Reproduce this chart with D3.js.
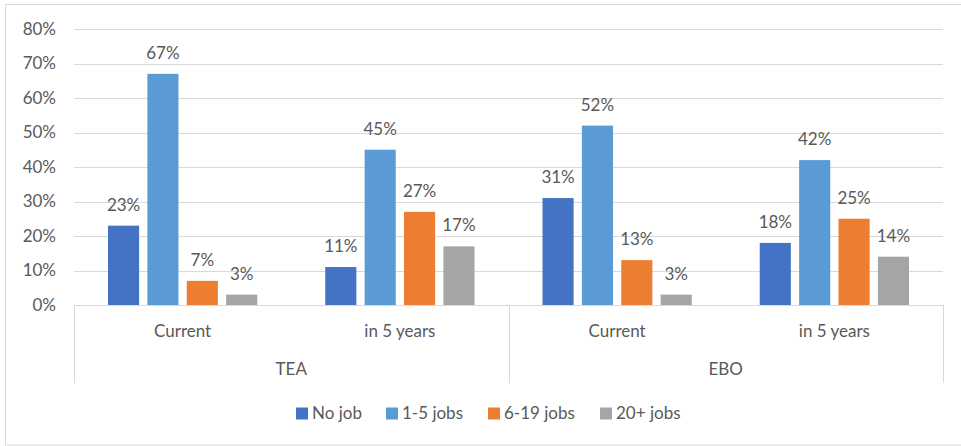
<!DOCTYPE html>
<html><head><meta charset="utf-8">
<script src="https://cdn.jsdelivr.net/npm/d3@7"></script>
<style>body{margin:0;background:#fff;} text{font-family:Lato,"Open Sans",sans-serif;}</style>
</head><body>
<svg id="c" width="961" height="446"></svg>
<script>
const groups = ["TEA", "EBO"];
const periods = ["Current", "in 5 years"];
const seriesNames = ["No job", "1-5 jobs", "6-19 jobs", "20+ jobs"];
const colors = ["#4472C4", "#5B9BD5", "#ED7D31", "#A5A5A5"];
// values per category (TEA Current, TEA in 5 years, EBO Current, EBO in 5 years)
const noJob = [23, 11, 31, 18];
const jobs1to5 = [67, 45, 52, 42];
const jobs6to19 = [7, 27, 13, 25];
const jobs20plus = [3, 17, 3, 14];
const yTicks = [0, 10, 20, 30, 40, 50, 60, 70, 80];

(function () {
const series = [noJob, jobs1to5, jobs6to19, jobs20plus];
const cats = [];
groups.forEach(g => periods.forEach(p => cats.push(g + "|" + p)));

const svg = d3.select("#c");
const pL = 74, pR = 943, pT = 29, pB = 305;
const textColor = "#595959", fs = 17;

svg.append("rect").attr("x", 5.5).attr("y", 4.5).attr("width", 970).attr("height", 440.5)
  .attr("fill", "#fff").attr("stroke", "#d9d9d9").attr("stroke-width", 1);

const y = d3.scaleLinear().domain([0, 80]).range([pB, pT]);
const x0 = d3.scaleBand().domain(cats).range([pL, pR]).paddingInner(0).paddingOuter(0);
const x1 = d3.scaleBand().domain(d3.range(4)).range([34, x0.bandwidth() - 34]).paddingInner(0.21).paddingOuter(0);

// gridlines
svg.append("g").selectAll("line").data(yTicks.filter(t => t > 0)).join("line")
  .attr("x1", pL).attr("x2", pR).attr("y1", d => Math.round(y(d)) + 0.5).attr("y2", d => Math.round(y(d)) + 0.5)
  .attr("stroke", "#d9d9d9").attr("stroke-width", 1);

// y axis labels
const yAxis = d3.axisLeft(y).tickValues(yTicks).tickFormat(d => d + "%").tickSize(0).tickPadding(0);
const ya = svg.append("g").attr("transform", `translate(56,0)`).call(yAxis);
ya.select(".domain").remove();
ya.selectAll("text").attr("fill", textColor).style("font-size", fs + "px").style("font-family", "Lato");

// bars
cats.forEach((c, ci) => {
  series.forEach((s, si) => {
    const bx = x0(c) + x1(si);
    svg.append("rect").attr("x", bx).attr("y", y(s[ci])).attr("width", x1.bandwidth())
      .attr("height", y(0) - y(s[ci])).attr("fill", colors[si]);
    svg.append("text").attr("x", bx + x1.bandwidth() / 2).attr("y", y(s[ci]) - 15)
      .attr("text-anchor", "middle").attr("fill", textColor).style("font-size", fs + "px").text(s[ci] + "%");
  });
});

// axis baseline and category box
const axG = svg.append("g").attr("stroke", "#d9d9d9").attr("stroke-width", 1);
axG.append("line").attr("x1", pL).attr("x2", pR).attr("y1", pB + 0.5).attr("y2", pB + 0.5);
const sep = [pL, x0(cats[2]), pR];
sep.forEach(sx => axG.append("line").attr("x1", Math.round(sx) + 0.5).attr("x2", Math.round(sx) + 0.5)
  .attr("y1", pB).attr("y2", 383));

cats.forEach(c => {
  svg.append("text").attr("x", x0(c) + x0.bandwidth() / 2).attr("y", 337)
    .attr("text-anchor", "middle").attr("fill", textColor).style("font-size", fs + "px").text(c.split("|")[1]);
});
groups.forEach((g) => {
  const a = x0(g + "|" + periods[0]), b = x0(g + "|" + periods[1]) + x0.bandwidth();
  svg.append("text").attr("x", (a + b) / 2).attr("y", 375)
    .attr("text-anchor", "middle").attr("fill", textColor).style("font-size", fs + "px").text(g);
});

// legend
const legX = [296, 386, 488, 600];
seriesNames.forEach((n, i) => {
  svg.append("rect").attr("x", legX[i]).attr("y", 407.5).attr("width", 12).attr("height", 12).attr("fill", colors[i]);
  svg.append("text").attr("x", legX[i] + 16).attr("y", 419).attr("fill", textColor).style("font-size", fs + "px").text(n);
});
})();
</script>
</body></html>
